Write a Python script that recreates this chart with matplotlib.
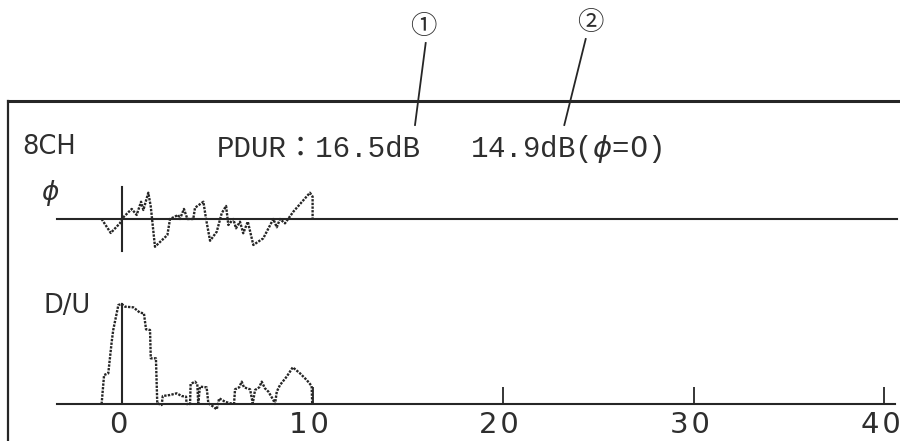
import matplotlib
matplotlib.use("Agg")
import matplotlib.pyplot as plt
from matplotlib.lines import Line2D
from matplotlib.transforms import ScaledTranslation

# Trace de phase (canal 8), x en unités de l'axe, phase en degrés
phase_x = [-1.07, -0.59, -0.10, -0.02, 0.51, 0.77, 1.00, 1.12, 1.38, 1.51,
           1.73, 2.38, 2.52, 2.95, 3.04, 3.25, 3.43, 3.74, 3.83, 4.27,
           4.41, 4.62, 4.97, 5.23, 5.46, 5.58, 5.84, 5.98, 6.19, 6.36,
           6.60, 6.89, 7.41, 7.94, 8.12, 8.29, 8.55, 8.99, 9.86, 10.0, 10.0]
phase_deg = [0, -93, -27, 0, 67, 27, 115, 60, 175, 82,
             -185, -107, 0, 27, 0, 67, 0, 0, 75, 115,
             0, -145, -85, 38, 87, -40, 0, -62, -18, -95,
             -18, -173, -129, 0, -55, 0, -29, 49, 175, 149, 0]

# Rapport D/U (dB)
du_x = [-1.07, -0.94, -0.72, -0.54, -0.46, -0.28, -0.19, -0.02, 0.16, 0.59,
        0.77, 0.94, 1.15, 1.26, 1.47, 1.51, 1.78, 1.85, 2.08, 2.14,
        2.52, 2.87, 3.13, 3.36, 3.39, 3.57, 3.60, 3.83, 3.95, 4.00,
        4.09, 4.44, 4.53, 4.79, 4.97, 5.10, 5.40, 5.67, 5.88, 5.93,
        6.15, 6.28, 6.40, 6.72, 6.86, 6.98, 7.20, 7.33, 7.50, 7.68,
        7.94, 8.03, 8.12, 8.29, 8.64, 8.96, 9.34, 9.69, 9.95, 9.98]
du_db = [0, 8.7, 9.2, 18.7, 22.2, 27.2, 29.7, 30.0, 29.2, 29.0,
         28.2, 27.4, 27.2, 22.4, 22.2, 13.7, 13.7, 0.2, -0.3, 2.4,
         2.7, 3.2, 2.4, 2.2, 0, 0, 6.0, 6.7, 6.0, 0.2,
         5.2, 5.0, 0.2, -0.8, -1.6, 1.7, 0.7, 0.2, 0.2, 4.4,
         5.0, 6.7, 5.0, 4.4, 0.2, 4.2, 5.0, 6.7, 4.7, 3.7,
         1.2, 0, 3.7, 5.7, 8.2, 11.0, 9.2, 7.2, 5.4, 0]

x_ticks = [0, 10, 20, 30, 40]
x_tick_labels = ["0", "1\u200a0", "2\u200a0", "3\u200a0", "4\u200a0"]

W, H = 900, 441
ink = "#262626"
txt = "#2e2e2e"


def fx(px):
    return px / W


def fy(py):
    return 1 - py / H


fig = plt.figure(figsize=(9, 4.41), dpi=100)
fig.patch.set_facecolor("white")

xlim = (-122 / 19.06, (W - 122) / 19.06)
deg_per_px = 6.667
db_per_px = 0.3
trace_style = dict(color=ink, lw=1.7, ls=(0, (1, 0.55)), clip_on=False)

# Panneau phase : ligne de base à y=219 px
ax_phi = fig.add_axes([0, fy(260), 1, 90 / H])
ax_phi.set_xlim(*xlim)
ax_phi.set_ylim(-41 * deg_per_px, 49 * deg_per_px)
ax_phi.axis("off")
ax_phi.axhline(0, xmin=fx(57), xmax=fx(897), color=ink, lw=1.5)
ax_phi.axvline(0, ymin=(260 - 251) / 90, ymax=(260 - 187) / 90, color=ink, lw=1.5)
ax_phi.plot(phase_x, phase_deg, **trace_style)

# Panneau D/U : ligne de base à y=404 px
ax_du = fig.add_axes([0, fy(404), 1, 114 / H])
ax_du.set_xlim(*xlim)
ax_du.set_ylim(0, 114 * db_per_px)
for side in ["top", "right", "left"]:
    ax_du.spines[side].set_visible(False)
ax_du.spines["bottom"].set_bounds((57 - 122) / 19.06, (895 - 122) / 19.06)
ax_du.spines["bottom"].set_linewidth(1.5)
ax_du.spines["bottom"].set_color(ink)
ax_du.set_yticks([])
ax_du.set_xticks(x_ticks)
ax_du.set_xticklabels(x_tick_labels, fontsize=21, color=txt)
ax_du.tick_params(axis="x", direction="in", length=12.5, width=1.3,
                  color=ink, pad=5)
shift = ScaledTranslation(-4 / 100, 0, fig.dpi_scale_trans)
for lab in ax_du.get_xticklabels():
    lab.set_transform(lab.get_transform() + shift)
ax_du.axvline(0, ymin=0, ymax=(404 - 304) / 114, color=ink, lw=1.5)
ax_du.plot(du_x, du_db, **trace_style)

# Cadre
fig.add_artist(Line2D([fx(8), fx(900)], [fy(101), fy(101)], color=ink, lw=2.2))
fig.add_artist(Line2D([fx(8), fx(8)], [fy(101), fy(441)], color=ink, lw=1.6))

# Textes
fig.text(fx(22), fy(147), "8CH", fontsize=18.5, color=txt, va="center")
fig.text(fx(43), fy(306), "D/U", fontsize=18.5, color=txt, va="center")
fig.text(fx(50), fy(193), r"$\phi$", fontsize=19, color=txt,
         va="center", ha="center")
fig.text(fx(217), fy(149), "PDUR：16.5dB", fontsize=21, color=txt,
         va="center", family=["Liberation Mono", "Noto Sans CJK JP"])
fig.text(fx(470), fy(149), r"14.9dB($\phi$=$\mathrm{0}$)", fontsize=21,
         color=txt, va="center", family="Liberation Mono")

# Repères ① et ②
circ_font = ["Noto Sans CJK JP", "DejaVu Sans"]
fig.text(fx(423), fy(27), "①", fontsize=19, ha="center", va="center",
         family=circ_font, color=txt)
fig.text(fx(590), fy(23), "②", fontsize=19, ha="center", va="center",
         family=circ_font, color=txt)
fig.add_artist(Line2D([fx(425.7), fx(415)], [fy(43), fy(125)], color=ink, lw=1.3))
fig.add_artist(Line2D([fx(585.7), fx(564.3)], [fy(39), fy(125)], color=ink, lw=1.3))

fig.savefig("out.png", dpi=100)
